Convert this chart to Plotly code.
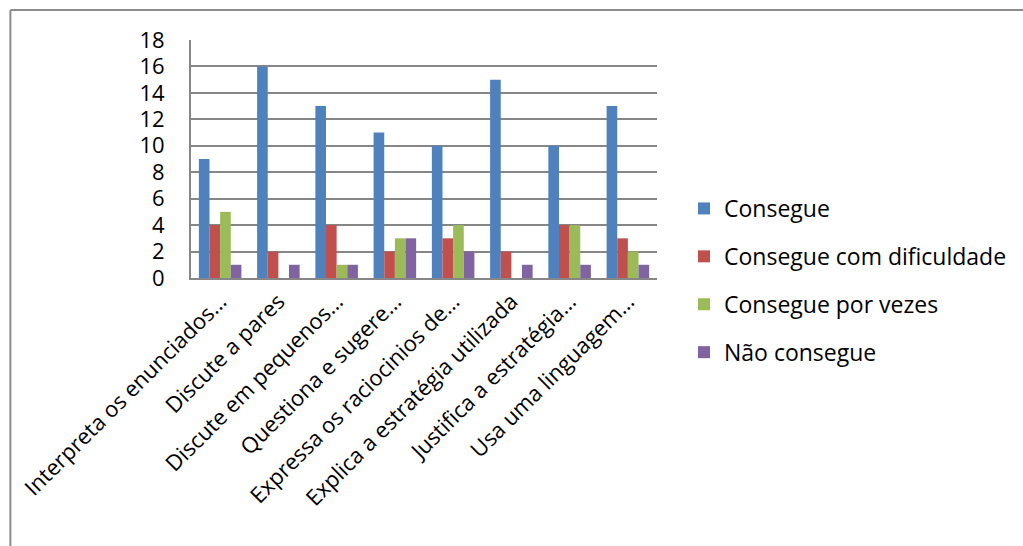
import plotly.graph_objects as go

categories = ["Interpreta os enunciados…", "Discute a pares", "Discute em pequenos…",
              "Questiona e sugere…", "Expressa os raciocinios de…", "Explica a estratégia utilizada",
              "Justifica a estratégia…", "Usa uma linguagem…"]
consegue = [9, 16, 13, 11, 10, 15, 10, 13]
com_dificuldade = [4, 2, 4, 2, 3, 2, 4, 3]
por_vezes = [5, 0, 1, 3, 4, 0, 4, 2]
nao_consegue = [1, 1, 1, 3, 2, 1, 1, 1]
series_names = ["Consegue", "Consegue com dificuldade", "Consegue por vezes", "Não consegue"]
colors = ["#4F81BD", "#C0504D", "#9BBB59", "#8064A2"]
y_ticks = list(range(0, 19, 2))

W, H = 1023, 546
L, R, T, B = 191, 658, 40, 278

fig = go.Figure()
for name, vals, col in zip(series_names, [consegue, com_dificuldade, por_vezes, nao_consegue], colors):
    fig.add_trace(go.Bar(x=categories, y=vals, name=name, legendgroup=name,
                         marker=dict(color=col, line=dict(width=0))))

font = "Open Sans, Lato, sans-serif"
fig.update_layout(
    width=W, height=H,
    margin=dict(l=L, r=W - R, t=T, b=H - B, pad=0),
    paper_bgcolor="white", plot_bgcolor="white",
    barmode="group", bargap=0.27, bargroupgap=0,
    font=dict(family=font, size=22, color="black"),
    showlegend=True,
    legend=dict(x=(684 - L) / (R - L), y=(278 - 187) / (B - T), xanchor="left", yanchor="top",
                font=dict(size=23), tracegroupgap=15, itemwidth=30, bgcolor="rgba(0,0,0,0)"),
    xaxis=dict(tickangle=-45, showline=True, linecolor="#868686", linewidth=2,
               showgrid=False, ticks="", tickfont=dict(size=22)),
    yaxis=dict(range=[0, 18], tickvals=y_ticks, showline=True, linecolor="#868686", linewidth=2,
               showgrid=True, gridcolor="#868686", gridwidth=2, ticks="", zeroline=False,
               tickfont=dict(size=22), ticklabelstandoff=20),
)
# outer chart border (left and top edges)
fx = lambda px: (px - L) / (R - L)
fy = lambda py: (B - py) / (B - T)
fig.add_shape(type="line", xref="paper", yref="paper", x0=fx(10), x1=fx(1030), y0=fy(10), y1=fy(10),
              line=dict(color="#8C8C8C", width=2))
fig.add_shape(type="line", xref="paper", yref="paper", x0=fx(10), x1=fx(10), y0=fy(10), y1=fy(560),
              line=dict(color="#8C8C8C", width=2))
fig.write_html("out.html")
